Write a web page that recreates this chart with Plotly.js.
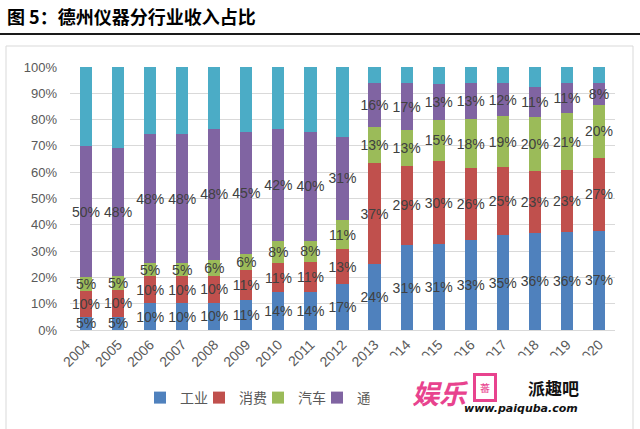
<!DOCTYPE html>
<html>
<head>
<meta charset="utf-8">
<script src="https://cdn.plot.ly/plotly-3.0.1.min.js"></script>
<style>html,body{margin:0;padding:0;background:#fff;}#chart{width:640px;height:429px;}</style>
</head>
<body>
<div id="chart"></div>
<script>
// ---- data ----
const years = ['2004','2005','2006','2007','2008','2009','2010','2011','2012','2013','2014','2015','2016','2017','2018','2019','2020'];
const industrial = [5, 5, 10, 10, 10, 11, 14, 14, 17, 24, 31, 31, 33, 35, 36, 36, 37];   // 工业
const consumer   = [10, 10, 10, 10, 10, 11, 11, 11, 13, 37, 29, 30, 26, 25, 23, 23, 27]; // 消费
const automotive = [5, 5, 5, 5, 6, 6, 8, 8, 11, 13, 13, 15, 18, 19, 20, 21, 20];         // 汽车
const comms      = [50, 48, 48, 48, 48, 45, 42, 40, 31, 16, 17, 13, 13, 12, 11, 11, 8];  // 通信
const other      = [30, 30, 25, 25, 23, 24, 23, 24, 26, 6, 6, 6, 6, 6, 7.5, 6, 6];        // 其他 (unlabelled top segment)
const seriesNames = ['工业', '消费', '汽车', '通信', '其他'];
const seriesColors = ['#4F81BD', '#C0504D', '#9BBB59', '#8064A2', '#4BACC6'];

// ---- layout geometry helpers (pixel -> paper) ----
const W = 640, H = 429;
const L = 70, R = 25, T = 67, B = 99;
const pw = W - L - R, ph = H - T - B;
const px = x => (x - L) / pw;
const py = y => (H - B - y) / ph;

const seriesValues = [industrial, consumer, automotive, comms, other];
const traces = seriesValues.map((vals, i) => {
  const t = {
    type: 'bar',
    name: seriesNames[i],
    x: years,
    y: vals,
    marker: {color: seriesColors[i]},
    hoverinfo: 'name+text'
  };
  if (i < 4) {
    t.text = vals.map(String);
    t.texttemplate = '%{text}%';
    t.textposition = 'inside';
    t.insidetextanchor = 'middle';
    t.textangle = 0;
    t.constraintext = 'none';
    t.cliponaxis = false;
    t.textfont = {family: 'Liberation Sans, Arial, sans-serif', size: 14, color: '#404040'};
  } else {
    t.textposition = 'none';
    t.showlegend = false;   // its legend entry is hidden under the watermark in the reference
  }
  return t;
});

const layout = {
  width: W, height: H,
  margin: {l: L, r: R, t: T, b: B},
  paper_bgcolor: '#ffffff',
  plot_bgcolor: '#ffffff',
  barmode: 'stack',
  barnorm: 'percent',
  bargap: 0.62,
  showlegend: true,
  font: {family: 'Liberation Sans, Arial, sans-serif', color: '#595959'},
  title: {
    text: '图 5：德州仪器分行业收入占比',
    xref: 'container', yref: 'container',
    x: 7 / W, xanchor: 'left',
    y: 1 - 18 / H, yanchor: 'middle',
    font: {family: 'Noto Sans CJK SC, sans-serif', size: 18, weight: 700, color: '#000000'}
  },
  xaxis: {
    type: 'category',
    tickangle: -45,
    tickfont: {family: 'Liberation Sans, Arial, sans-serif', size: 14, color: '#595959'},
    showline: true, linecolor: '#d9d9d9', linewidth: 1,
    showgrid: false, ticks: '', zeroline: false,
    fixedrange: true
  },
  yaxis: {
    range: [0, 100],
    dtick: 10,
    ticksuffix: '%',
    tickfont: {family: 'Liberation Sans, Arial, sans-serif', size: 13, color: '#595959'},
    showgrid: true, gridcolor: '#d9d9d9', gridwidth: 1,
    showline: false, zeroline: false, ticks: '',
    ticklabelstandoff: 12,
    fixedrange: true
  },
  legend: {
    orientation: 'h',
    x: px(140), xanchor: 'left',
    y: py(398), yanchor: 'middle',
    font: {family: 'Noto Sans CJK SC, sans-serif', size: 14, color: '#595959'},
    entrywidth: 14, entrywidthmode: 'pixels',
    bgcolor: 'rgba(0,0,0,0)',
    traceorder: 'normal'
  },
  shapes: [
    {type: 'line', xref: 'paper', yref: 'paper', x0: px(0), x1: px(640), y0: py(34), y1: py(34),
     line: {color: '#1a1a1a', width: 2}},
    {type: 'rect', xref: 'paper', yref: 'paper', x0: px(6), x1: px(633), y0: py(46), y1: py(445),
     line: {color: '#d9d9d9', width: 1}, fillcolor: 'rgba(0,0,0,0)', layer: 'below'}
  ],
  annotations: [
    // white cover under the watermark
    {xref: 'paper', yref: 'paper', x: px(369), y: py(355), xanchor: 'left', yanchor: 'top',
     text: ' ', showarrow: false, bgcolor: '#ffffff', width: 256, height: 70, borderpad: 0},
    // watermark
    {xref: 'paper', yref: 'paper', x: px(440), y: py(392), xanchor: 'center', yanchor: 'middle',
     text: '<i><b>娱乐</b></i>', showarrow: false,
     font: {family: 'Noto Sans CJK SC, sans-serif', size: 27, color: '#e8438e'}},
    {xref: 'paper', yref: 'paper', x: px(485), y: py(387), xanchor: 'center', yanchor: 'middle',
     text: '蕃', showarrow: false, bordercolor: '#e8438e', borderwidth: 3, borderpad: 4,
     font: {family: 'Noto Sans CJK SC, sans-serif', size: 10, color: '#e8438e'}},
    {xref: 'paper', yref: 'paper', x: px(553), y: py(388), xanchor: 'center', yanchor: 'middle',
     text: '<b>派趣吧</b>', showarrow: false,
     font: {family: 'Noto Sans CJK SC, sans-serif', size: 17, weight: 900, color: '#111111'}},
    {xref: 'paper', yref: 'paper', x: px(521), y: py(408), xanchor: 'center', yanchor: 'middle',
     text: '<b><i>www.paiquba.com</i></b>', showarrow: false,
     font: {family: 'DejaVu Sans, sans-serif', size: 11, color: '#111111'}}
  ]
};

Plotly.newPlot('chart', traces, layout, {displayModeBar: false, staticPlot: true});
</script>
</body>
</html>
